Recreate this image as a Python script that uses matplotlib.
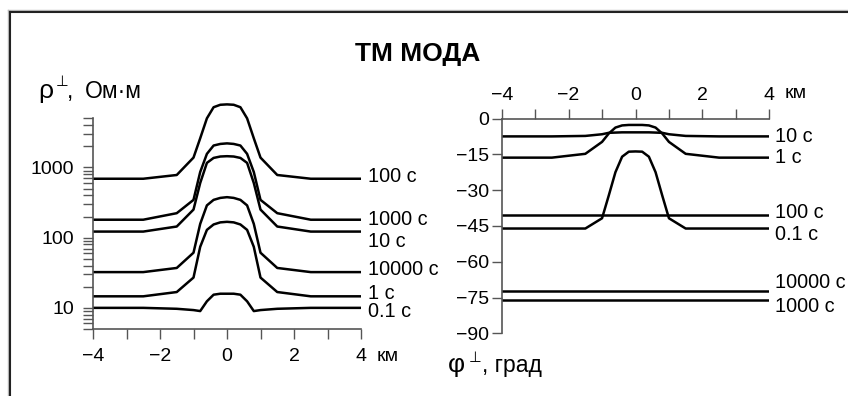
import matplotlib
matplotlib.use("Agg")
import matplotlib.pyplot as plt
from matplotlib.lines import Line2D

plt.rcParams['font.family'] = ['Liberation Sans', 'DejaVu Sans']
plt.rcParams['axes.unicode_minus'] = True

# ---------------------------------------------------------------- data
distance_km = [-4, -2.5, -1.5, -1.0, -0.8, -0.6, -0.4, -0.2, 0,
               0.2, 0.4, 0.6, 0.8, 1.0, 1.5, 2.5, 4]

# apparent resistivity, Ohm*m
rho_labels = ["100 с", "1000 с", "10 с", "10000 с", "1 с", "0.1 с"]
rho_100s = [690, 690, 780, 1380, 2600, 5000, 7200, 7800, 7900,
            7800, 7200, 5000, 2600, 1380, 780, 690, 690]
rho_1000s = [180, 180, 223, 345, 860, 1560, 2050, 2160, 2200,
             2160, 2050, 1560, 860, 345, 223, 180, 180]
rho_10s = [122, 122, 144, 251, 600, 1160, 1365, 1430, 1445,
           1430, 1365, 1160, 600, 251, 144, 122, 122]
rho_10000s = [32.3, 32.3, 37, 61, 157, 288, 345, 368, 377,
              368, 345, 288, 157, 61, 37, 32.3, 32.3]
rho_1s = [14.6, 14.6, 16.8, 27, 74, 129, 154, 165, 168,
          165, 154, 129, 74, 27, 16.8, 14.6, 14.6]
rho_01s = [10.0, 10.0, 9.7, 9.3, 9.0, 12.4, 15.4, 15.9, 15.9,
           15.9, 15.4, 12.4, 9.0, 9.3, 9.7, 10.0, 10.0]
rho_series = [rho_100s, rho_1000s, rho_10s, rho_10000s, rho_1s, rho_01s]
rho_label_dy = [2.6, 0, -10, 2.7, 3, -3.4]  # px shift of the end labels

# impedance phase, degrees
phi_labels = ["10 с", "1 с", "100 с", "0.1 с", "10000 с", "1000 с"]
phi_10s = [-7.5, -7.5, -7.3, -6.6, -6.0, -5.9, -5.8, -5.8, -5.8,
           -5.8, -5.8, -5.9, -6.0, -6.6, -7.3, -7.5, -7.5]
phi_1s = [-16.4, -16.4, -14.8, -9.8, -6.3, -3.8, -2.9, -2.7, -2.7,
          -2.7, -2.9, -3.8, -6.3, -9.8, -14.8, -16.4, -16.4]
phi_100s = [-40.5, -40.5]
phi_01s = [-46.1, -46.1, -46.1, -41.8, -32.3, -22.5, -16.0, -13.9, -13.8,
           -13.9, -16.0, -22.5, -32.3, -41.8, -46.1, -46.1, -46.1]
phi_10000s = [-72.1, -72.1]
phi_1000s = [-76.0, -76.0]
flat_km = [-4, 4]
phi_series = [(distance_km, phi_10s), (distance_km, phi_1s), (flat_km, phi_100s),
              (distance_km, phi_01s), (flat_km, phi_10000s), (flat_km, phi_1000s)]
phi_label_dy = [0, 0, 2.3, -5.7, 8, -6.7]

x_ticks = [-4, -3, -2, -1, 0, 1, 2, 3, 4]
x_ticklabels = ["−4", "", "−2", "", "0", "", "2", "", "4"]
phi_ticks = [0, -15, -30, -45, -60, -75, -90]

# ---------------------------------------------------------------- layout
W, H = 848, 396
fig = plt.figure(figsize=(W / 100, H / 100), dpi=100)
PT = 0.72  # points per pixel


def fx(px):
    return px / W


def fy(py):
    return 1 - py / H


AX_COL = '#555555'
LINE_W = 1.8
FS_TICK = 14
FS_LAB = 14.3
FS_AXT = 16.5

# --- resistivity panel
ax1 = fig.add_axes([fx(93), fy(329), (361 - 93) / W, (329 - 97.2) / H])
ax1.set_yscale('log')
ax1.set_xlim(-4, 4)
ax1.set_ylim(5, 10000)
for s in ('top', 'right'):
    ax1.spines[s].set_visible(False)
ax1.spines['left'].set_bounds(5, 5000)
for s in ('left', 'bottom'):
    ax1.spines[s].set_color(AX_COL)
    ax1.spines[s].set_linewidth(1.2)
ax1.patch.set_alpha(0)

minor = [m * 10 ** e for e in range(0, 4) for m in range(2, 10)
         if 5 <= m * 10 ** e <= 5000]
ax1.set_yticks([10, 100, 1000])
ax1.set_yticklabels(["10", "100", "1000"])
ax1.set_yticks(minor, minor=True)
ax1.yaxis.set_minor_formatter(plt.NullFormatter())
ax1.set_xticks(x_ticks)
ax1.set_xticklabels(x_ticklabels)
ax1.tick_params(axis='both', which='both', direction='out', length=10 * PT,
                width=1, color=AX_COL, labelsize=FS_TICK)
ax1.tick_params(axis='y', which='both', pad=6.5)
ax1.tick_params(axis='x', pad=6.5)

for vals, lab, dy in zip(rho_series, rho_labels, rho_label_dy):
    ax1.plot(distance_km, vals, color='black', lw=LINE_W, solid_joinstyle='round')
    ax1.annotate(lab, xy=(4, vals[-1]), xytext=(7 * PT, dy * PT),
                 textcoords='offset points', ha='left', va='center',
                 fontsize=FS_LAB, annotation_clip=False)

fig.text(fx(377), fy(356.5), "км", fontsize=FS_TICK, ha='left', va='center')

# --- phase panel
ax2 = fig.add_axes([fx(501.7), fy(333.3), (769.3 - 501.7) / W, (333.3 - 118.5) / H])
ax2.set_xlim(-4, 4)
ax2.set_ylim(-90, 0)
for s in ('bottom', 'right'):
    ax2.spines[s].set_visible(False)
for s in ('left', 'top'):
    ax2.spines[s].set_color(AX_COL)
    ax2.spines[s].set_linewidth(1.2)
ax2.patch.set_alpha(0)
ax2.xaxis.tick_top()
ax2.set_xticks(x_ticks)
ax2.set_xticklabels(x_ticklabels)
ax2.set_yticks(phi_ticks)
ax2.set_yticklabels(["0" if t == 0 else "−%d" % -t for t in phi_ticks])
ax2.tick_params(axis='both', which='both', direction='out', length=10 * PT,
                width=1, color=AX_COL, labelsize=FS_TICK)
ax2.tick_params(axis='y', pad=2)
ax2.tick_params(axis='x', pad=3)

for (xs, vals), lab, dy in zip(phi_series, phi_labels, phi_label_dy):
    ax2.plot(xs, vals, color='black', lw=LINE_W, solid_joinstyle='round')
    ax2.annotate(lab, xy=(4, vals[-1]), xytext=(6 * PT, dy * PT),
                 textcoords='offset points', ha='left', va='center',
                 fontsize=FS_LAB, annotation_clip=False)

fig.text(fx(785), fy(94), "км", fontsize=FS_TICK, ha='left', va='center')

# --- axis titles
fig.text(fx(38), fy(98.3), "ρ", fontsize=19, ha='left', va='baseline')
fig.text(fx(55.5), fy(86.5), "⊥", fontsize=10.5, ha='left', va='baseline')
fig.text(fx(67), fy(98.3), ",", fontsize=FS_AXT, ha='left', va='baseline')
fig.text(fx(85), fy(98.3), "Ом·м", fontsize=FS_AXT, ha='left', va='baseline')

fig.text(fx(448), fy(372), "φ", fontsize=19, ha='left', va='baseline')
fig.text(fx(469), fy(361.5), "⊥", fontsize=10.5, ha='left', va='baseline')
fig.text(fx(482), fy(372), ", град", fontsize=FS_AXT, ha='left', va='baseline')

fig.text(fx(418), fy(54), "ТМ МОДА", fontsize=19, fontweight='bold',
         ha='center', va='center')

# --- frame
fig.add_artist(Line2D([fx(7.5), fx(7.5)], [fy(9.5), 0], transform=fig.transFigure,
                      color='#bbbbbb', lw=1))
fig.add_artist(Line2D([fx(7.5), 1], [fy(9.5), fy(9.5)], transform=fig.transFigure,
                      color='#bbbbbb', lw=1))
fig.add_artist(Line2D([fx(9.5), fx(9.5)], [fy(11.5), 0], transform=fig.transFigure,
                      color='#222222', lw=1.5))
fig.add_artist(Line2D([fx(9.5), 1], [fy(11.5), fy(11.5)], transform=fig.transFigure,
                      color='#222222', lw=1.5))

fig.savefig("out.png", dpi=100)
